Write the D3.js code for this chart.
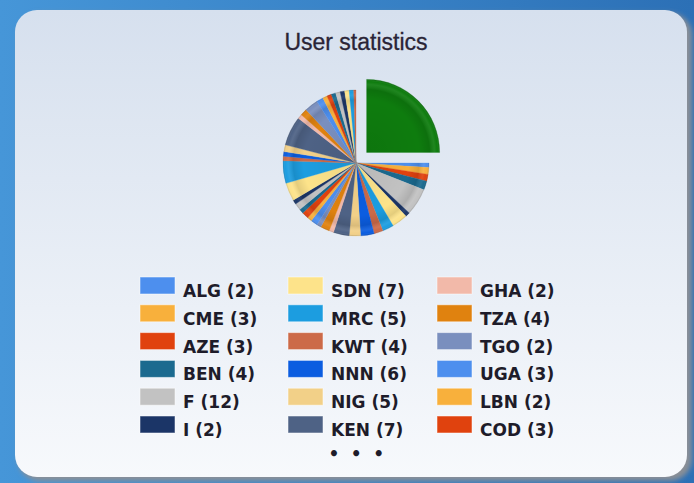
<!DOCTYPE html>
<html>
<head>
<meta charset="utf-8">
<script src="https://cdn.jsdelivr.net/npm/d3@7"></script>
<style>
  html, body { margin: 0; padding: 0; background: #3b8ad0; }
  svg { display: block; }
</style>
</head>
<body>
<div id="vis"></div>
<script>
// slice names and counts, in drawing order (clockwise from 3 o'clock)
var countries = ['ALG', 'CME', 'AZE', 'BEN', 'F', 'I', 'SDN', 'MRC', 'KWT', 'NNN', 'NIG', 'KEN',
  'GHA', 'TZA', 'TGO', 'UGA', 'LBN', 'COD',
  'SEN', 'CIV', 'MLI', 'BFA', 'NER', 'TCD', 'CAF', 'GAB', 'COG', 'RWA', 'BDI', 'ETH',
  'SOM', 'DJI', 'ERI', 'MDG', 'MOZ', 'ZMB', 'ZWE', 'MWI', 'AGO', 'CMR'];
var counts = [2, 3, 3, 4, 12, 2, 7, 5, 4, 6, 5, 7,
  2, 4, 2, 3, 2, 3,
  2, 3, 2, 8, 10, 2, 2, 3, 13, 2, 3, 6,
  3, 2, 2, 2, 2, 2, 2, 2, 1, 50];

// palette repeats every 15 slices; the last (selected) slice is green
var palette = ['#4d8fee', '#f8b03c', '#e0420e', '#1b6a8f', '#c2c2c2', '#1b3567', '#fde38a',
  '#1c9de0', '#cc6a48', '#0b5de0', '#f2d088', '#4e6285', '#f2b9a9', '#e0820f', '#7a8fbe'];
var selectedColor = '#0e7c0e';

var legendCount = 18;   // entries shown before the ellipsis

var width = 694;
var height = 483;

var svg = d3.select('#vis').append('svg')
  .attr('width', width)
  .attr('height', height);

var defs = svg.append('defs');

// blue window background
var bg = defs.append('linearGradient').attr('id', 'bg')
  .attr('x1', 0).attr('y1', 0).attr('x2', 1).attr('y2', 0);
bg.append('stop').attr('offset', '0%').attr('stop-color', '#4696d8');
bg.append('stop').attr('offset', '100%').attr('stop-color', '#2c70b6');

// panel fill
var panel = defs.append('linearGradient').attr('id', 'panel')
  .attr('x1', 0).attr('y1', 0).attr('x2', 0).attr('y2', 1);
panel.append('stop').attr('offset', '0%').attr('stop-color', '#d6e0ee');
panel.append('stop').attr('offset', '100%').attr('stop-color', '#f7f9fc');

var shadow = defs.append('filter').attr('id', 'shadow')
  .attr('x', '-5%').attr('y', '-5%').attr('width', '115%').attr('height', '115%');
shadow.append('feGaussianBlur').attr('stdDeviation', 2.5);

svg.append('rect')
  .attr('width', width).attr('height', height)
  .attr('fill', 'url(#bg)');

// panel shadow, then panel
svg.append('rect')
  .attr('x', 18).attr('y', 13).attr('width', 674).attr('height', 468)
  .attr('rx', 22)
  .attr('fill', '#8a8f96')
  .attr('filter', 'url(#shadow)');

svg.append('rect')
  .attr('x', 15).attr('y', 10).attr('width', 672).attr('height', 467)
  .attr('rx', 22)
  .attr('fill', 'url(#panel)');

// title
svg.append('text')
  .attr('x', 356)
  .attr('y', 50)
  .attr('text-anchor', 'middle')
  .attr('font-family', 'Liberation Sans, Arial, sans-serif')
  .attr('font-size', 23)
  .attr('fill', '#2a2436')
  .attr('stroke', '#2a2436')
  .attr('stroke-width', 0.3)
  .text('User statistics');

// pie
var cx = 356, cy = 163;
var radius = 73;
var explode = 15;

var data = countries.map(function(c, i) {
  return {name: c, value: counts[i], index: i};
});

function colorOf(d) {
  return d.index === countries.length - 1 ? selectedColor : palette[d.index % palette.length];
}

var pie = d3.pie()
  .value(function(d) { return d.value; })
  .sort(null)
  .startAngle(Math.PI / 2)
  .endAngle(Math.PI / 2 + 2 * Math.PI);

var arc = d3.arc()
  .innerRadius(0)
  .outerRadius(radius);

// bevel-like shading laid over each slice
var shade = defs.append('radialGradient').attr('id', 'shade')
  .attr('gradientUnits', 'userSpaceOnUse')
  .attr('cx', 0).attr('cy', 0).attr('r', radius);
shade.append('stop').attr('offset', '0%').attr('stop-color', '#000').attr('stop-opacity', 0.06);
shade.append('stop').attr('offset', '72%').attr('stop-color', '#000').attr('stop-opacity', 0);
shade.append('stop').attr('offset', '86%').attr('stop-color', '#000').attr('stop-opacity', 0.1);
shade.append('stop').attr('offset', '93%').attr('stop-color', '#fff').attr('stop-opacity', 0.07);
shade.append('stop').attr('offset', '97%').attr('stop-color', '#fff').attr('stop-opacity', 0);
shade.append('stop').attr('offset', '100%').attr('stop-color', '#000').attr('stop-opacity', 0.18);

var arcs = pie(data);

var slices = svg.append('g').selectAll('g')
  .data(arcs)
  .enter().append('g')
  .attr('transform', function(d) {
    var dx = 0, dy = 0;
    if (d.data.index === countries.length - 1) {
      var mid = (d.startAngle + d.endAngle) / 2;
      dx = Math.sin(mid) * explode;
      dy = -Math.cos(mid) * explode;
    }
    return 'translate(' + (cx + dx) + ',' + (cy + dy) + ')';
  });

slices.append('path')
  .attr('d', arc)
  .attr('fill', function(d) { return colorOf(d.data); })
  .attr('stroke', function(d) { return colorOf(d.data); })
  .attr('stroke-width', 0.3);

slices.append('path')
  .attr('d', arc)
  .attr('fill', 'url(#shade)');

// legend, column-major, 6 rows
var rows = 6;
var colX = [140, 288, 437];
var rowY = 277;
var rowStep = 27.8;

var legend = svg.append('g').selectAll('g')
  .data(data.slice(0, legendCount))
  .enter().append('g')
  .attr('transform', function(d, i) {
    return 'translate(' + colX[Math.floor(i / rows)] + ',' + (rowY + (i % rows) * rowStep) + ')';
  });

legend.append('rect')
  .attr('width', 35)
  .attr('height', 17)
  .attr('fill', function(d) { return colorOf(d); })
  .attr('stroke', '#ffffff')
  .attr('stroke-opacity', 0.5)
  .attr('stroke-width', 1);

legend.append('text')
  .attr('x', 43)
  .attr('y', 20)
  .attr('font-family', 'DejaVu Sans, Verdana, sans-serif')
  .attr('font-weight', 'bold')
  .attr('font-size', 17)
  .attr('fill', '#1e1c2a')
  .text(function(d) { return d.name + ' (' + d.value + ')'; });

// ellipsis for the hidden entries
svg.append('text')
  .attr('x', 362)
  .attr('y', 460)
  .attr('text-anchor', 'middle')
  .attr('font-family', 'DejaVu Sans, sans-serif')
  .attr('font-weight', 'bold')
  .attr('font-size', 17)
  .attr('letter-spacing', 11.5)
  .attr('fill', '#1e1c2a')
  .text('\u2022\u2022\u2022');
</script>
</body>
</html>
